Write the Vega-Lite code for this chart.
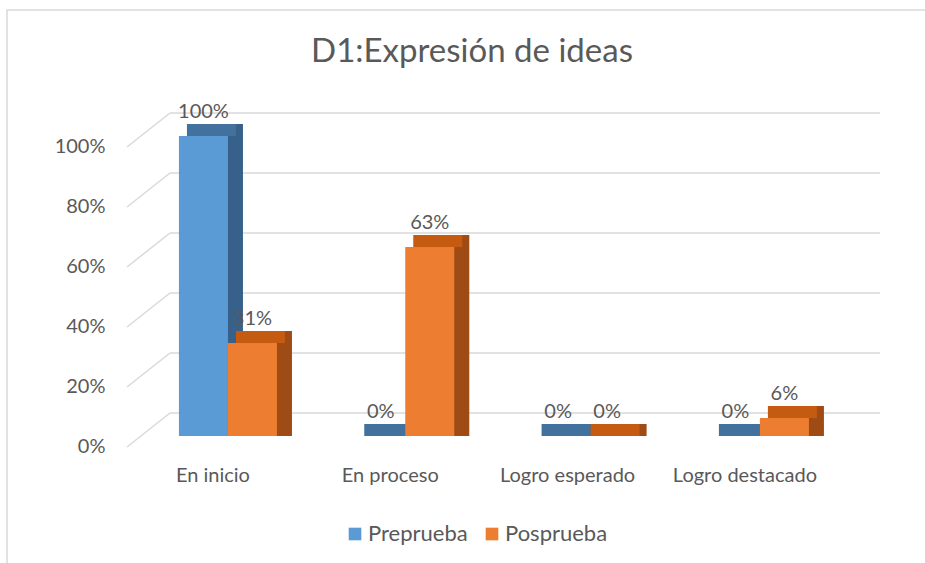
{
  "$schema": "https://vega.github.io/schema/vega-lite/v6.json",
  "autosize": {"type": "none"},
  "padding": {"left": 7, "top": 10, "right": 0, "bottom": 0},
  "width": 918,
  "height": 553,
  "background": "white",
  "view": {"stroke": "#d9d9d9", "strokeWidth": 1.5, "strokeDash": [918, 1471, 553]},
  "config": {"font": "Lato"},
  "title": {
    "text": "D1:Expresión de ideas",
    "font": "Lato",
    "fontSize": 33,
    "fontWeight": "normal",
    "color": "#595959",
    "anchor": "middle",
    "baseline": "alphabetic",
    "offset": -85,
    "dx": 6
  },
  "datasets": {
    "bars": [
      {"cat": "En inicio", "serie": "Preprueba", "v": 1.0},
      {"cat": "En inicio", "serie": "Posprueba", "v": 0.31},
      {"cat": "En proceso", "serie": "Preprueba", "v": 0.0},
      {"cat": "En proceso", "serie": "Posprueba", "v": 0.63},
      {"cat": "Logro esperado", "serie": "Preprueba", "v": 0.0},
      {"cat": "Logro esperado", "serie": "Posprueba", "v": 0.0},
      {"cat": "Logro destacado", "serie": "Preprueba", "v": 0.0},
      {"cat": "Logro destacado", "serie": "Posprueba", "v": 0.06}
    ],
    "grid": [{"v": 0}, {"v": 0.2}, {"v": 0.4}, {"v": 0.6}, {"v": 0.8}, {"v": 1.0}]
  },
  "resolve": {"scale": {"x": "independent"}},
  "layer": [
    {
      "data": {"name": "grid"},
      "mark": {"type": "rule", "color": "#d9d9d9", "strokeWidth": 1.5, "yOffset": -23, "y2Offset": -23, "xOffset": 163, "x2Offset": -45},
      "encoding": {
        "x": {"datum": 0, "type": "quantitative", "scale": {"domain": [0, 1]}, "axis": null},
        "x2": {"datum": 1},
        "y": {
          "field": "v",
          "type": "quantitative",
          "scale": {"domain": [-0.4233, 1.42], "nice": false, "zero": false},
          "axis": {
            "values": [0, 0.2, 0.4, 0.6, 0.8, 1],
            "format": ".0%",
            "title": null,
            "domain": false,
            "ticks": false,
            "tickSize": 0,
            "grid": false,
            "labelPadding": 22,
            "offset": -120,
            "labelOffset": 10,
            "labelFont": "Lato",
            "labelFontSize": 20,
            "labelColor": "#595959"
          }
        },
        "y2": {"field": "v"}
      }
    },
    {
      "data": {"name": "grid"},
      "mark": {"type": "rule", "color": "#d9d9d9", "strokeWidth": 1.5, "xOffset": 120, "x2Offset": 163, "yOffset": 11, "y2Offset": -23},
      "encoding": {
        "x": {"datum": 0, "type": "quantitative", "scale": {"domain": [0, 1]}, "axis": null},
        "x2": {"datum": 0},
        "y": {"field": "v", "type": "quantitative"},
        "y2": {"field": "v"}
      }
    },
    {
      "data": {"name": "bars"},
      "encoding": {
        "x": {
          "field": "cat",
          "type": "nominal",
          "sort": null,
          "scale": {"type": "band", "paddingInner": 0.447, "paddingOuter": 0.812, "align": 0.597},
          "axis": null
        },
        "y": {"field": "v", "type": "quantitative"}
      },
      "layer": [
        {
          "transform": [{"filter": "datum.serie === 'Preprueba'"}],
          "mark": {"type": "bar", "width": {"band": 0.5}, "xOffset": -9.5, "yOffset": -12, "color": "#37618a"},
          "encoding": {"y2": {"datum": 0}}
        },
        {
          "transform": [{"filter": "datum.serie === 'Posprueba'"}],
          "mark": {"type": "bar", "width": {"band": 0.5}, "xOffset": 39.5, "yOffset": -12, "color": "#9e4b16"},
          "encoding": {"y2": {"datum": 0}}
        },
        {
          "transform": [{"filter": "datum.serie === 'Preprueba'"}],
          "mark": {"type": "bar", "width": {"band": 0.5}, "xOffset": -16.5, "yOffset": -12, "color": "#41719c"},
          "encoding": {"y2": {"field": "v"}}
        },
        {
          "transform": [{"filter": "datum.serie === 'Posprueba'"}],
          "mark": {"type": "bar", "width": {"band": 0.5}, "xOffset": 32.5, "yOffset": -12, "color": "#c55a11"},
          "encoding": {"y2": {"field": "v"}}
        },
        {
          "transform": [{"filter": "datum.serie === 'Preprueba'"}],
          "mark": {"type": "bar", "width": {"band": 0.5}, "xOffset": -24.5},
          "encoding": {
            "y2": {"datum": 0},
            "color": {
              "field": "serie",
              "type": "nominal",
              "scale": {"domain": ["Preprueba", "Posprueba"], "range": ["#5b9bd5", "#ed7d31"]},
              "legend": {
                "title": null,
                "orient": "none",
                "legendX": 337,
                "legendY": 513,
                "direction": "horizontal",
                "symbolType": "square",
                "symbolSize": 160,
                "symbolStrokeWidth": 0,
                "labelFont": "Lato",
                "labelFontSize": 22,
                "labelColor": "#595959",
                "labelOffset": 2,
                "columnPadding": 13
              }
            }
          }
        },
        {
          "transform": [{"filter": "datum.serie === 'Posprueba'"}],
          "mark": {"type": "bar", "width": {"band": 0.5}, "xOffset": 24.5},
          "encoding": {
            "y2": {"datum": 0},
            "color": {"field": "serie", "type": "nominal"}
          }
        },
        {
          "transform": [{"filter": "datum.serie === 'Preprueba'"}],
          "mark": {"type": "text", "xOffset": -24.5, "dy": -18, "baseline": "alphabetic", "font": "Lato", "fontSize": 20, "color": "#595959"},
          "encoding": {"text": {"field": "v", "type": "quantitative", "format": ".0%"}}
        },
        {
          "transform": [{"filter": "datum.serie === 'Posprueba'"}],
          "mark": {"type": "text", "xOffset": 24.5, "dy": -18, "baseline": "alphabetic", "font": "Lato", "fontSize": 20, "color": "#595959"},
          "encoding": {"text": {"field": "v", "type": "quantitative", "format": ".0%"}}
        },
        {
          "transform": [{"filter": "datum.serie === 'Preprueba'"}],
          "mark": {"type": "text", "xOffset": -15, "dy": 40, "baseline": "middle", "font": "Lato", "fontSize": 20, "color": "#595959"},
          "encoding": {
            "y": {"datum": 0, "type": "quantitative"},
            "text": {"field": "cat", "type": "nominal"}
          }
        }
      ]
    }
  ]
}
